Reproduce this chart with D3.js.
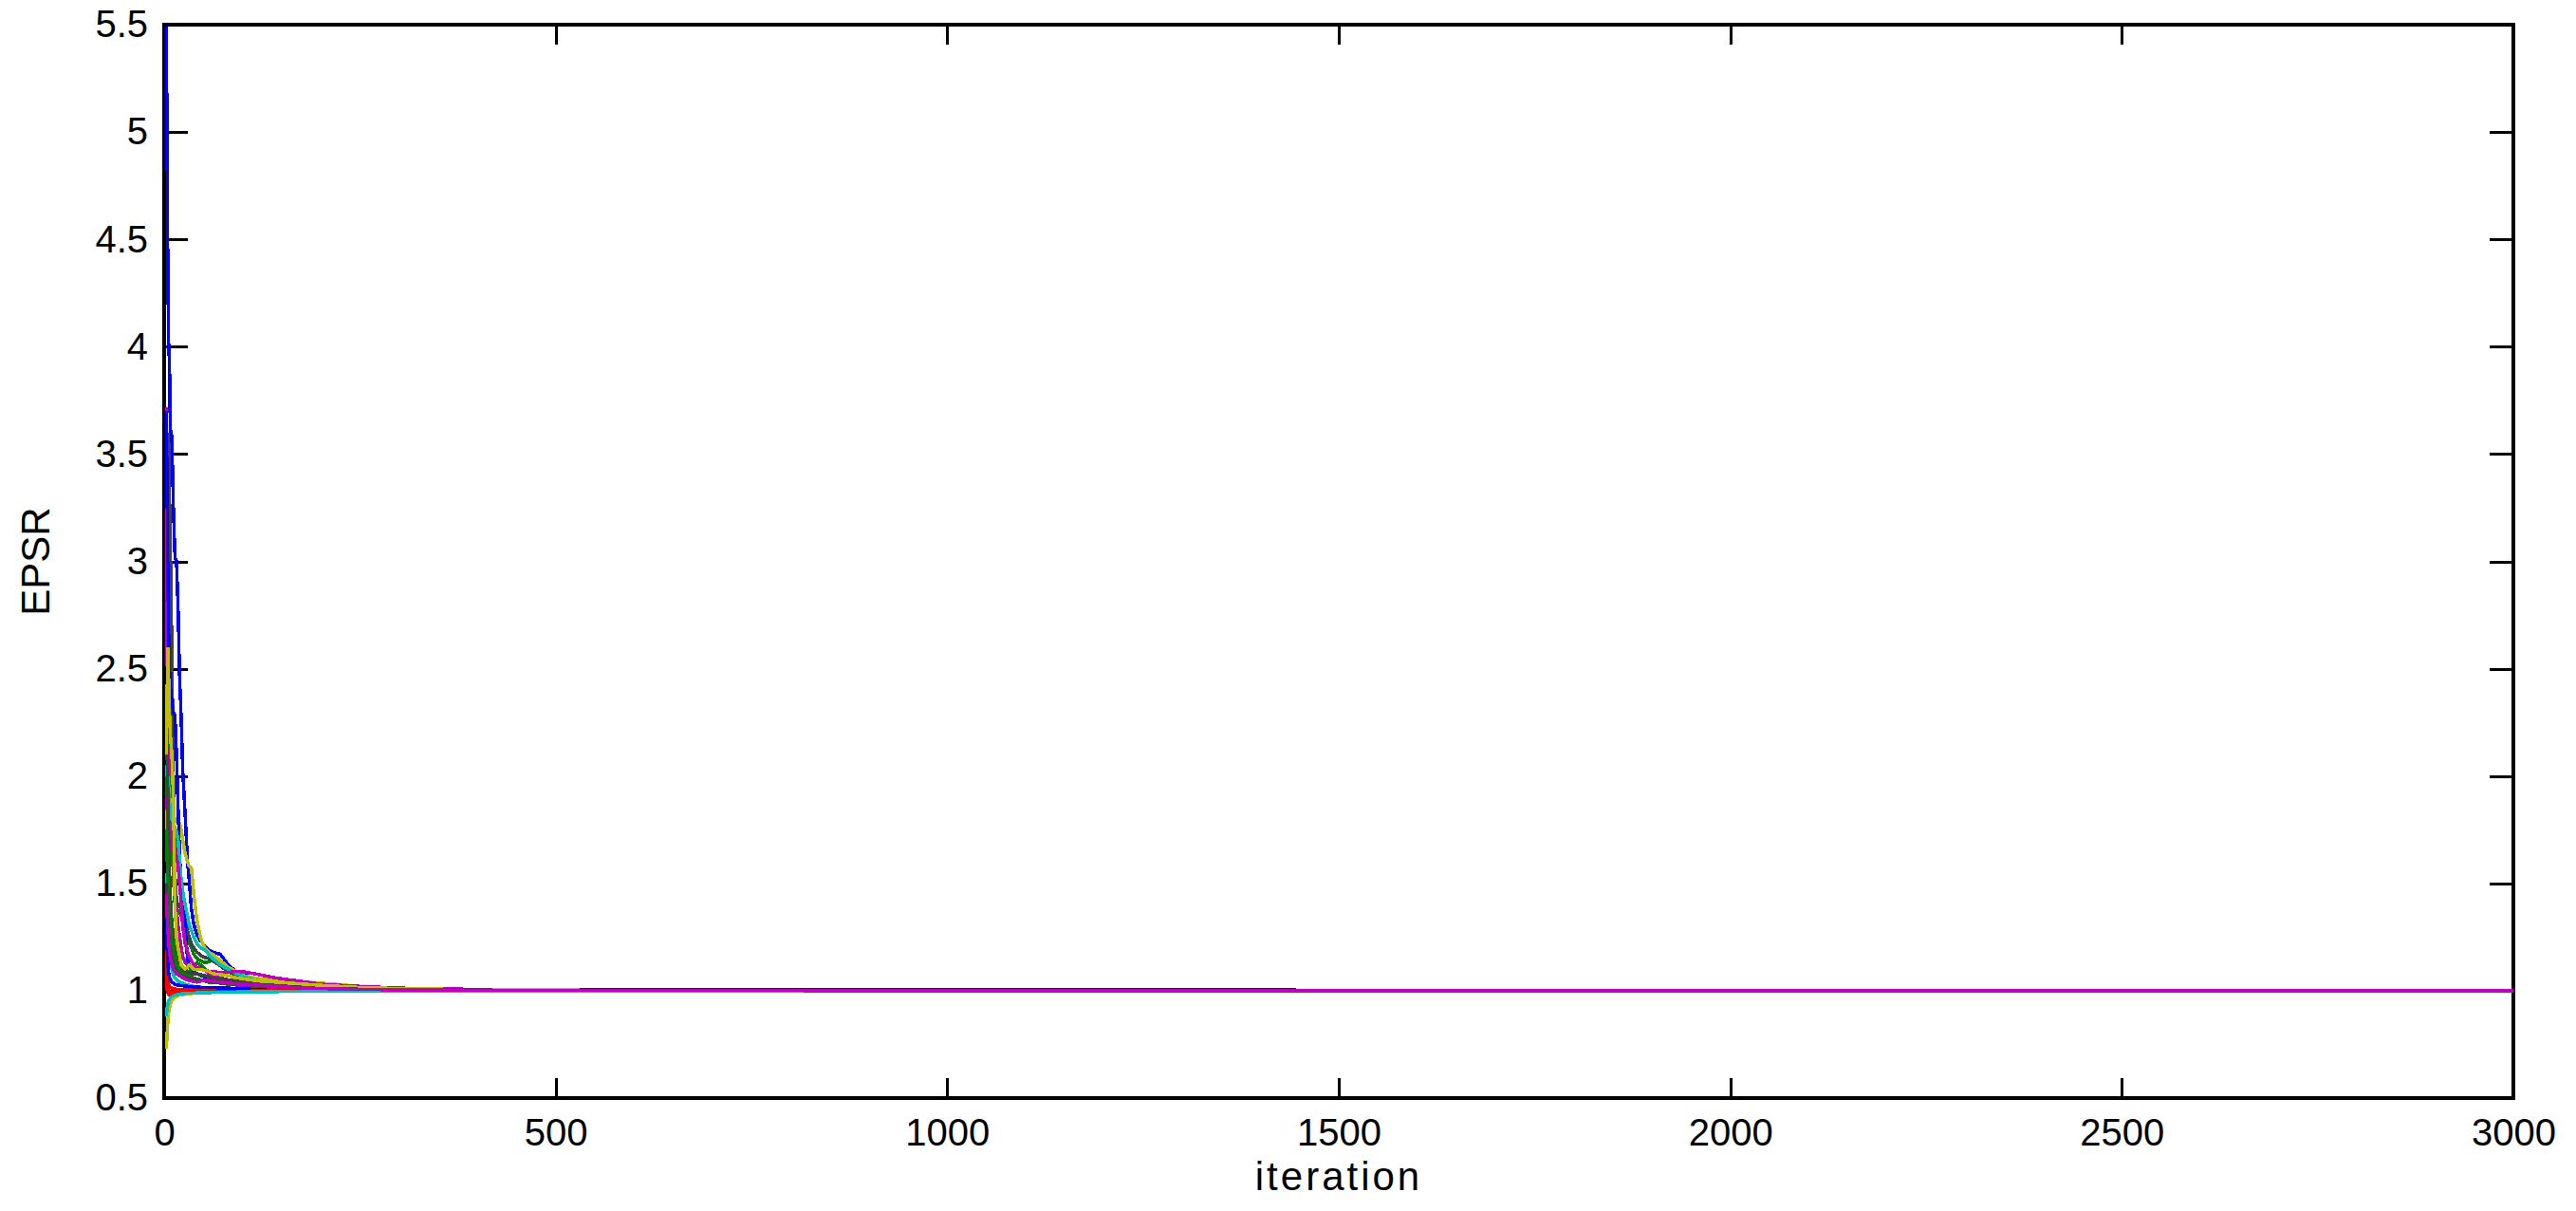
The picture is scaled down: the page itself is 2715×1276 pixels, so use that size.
<!DOCTYPE html>
<html>
<head>
<meta charset="utf-8">
<script src="https://cdn.jsdelivr.net/npm/d3@7"></script>
<style>
  html, body { margin: 0; padding: 0; background: #fff; }
  svg { display: block; }
  text { font-family: "Liberation Sans", Arial, Helvetica, sans-serif; fill: #000; }
</style>
</head>
<body>
<svg id="chart" width="2715" height="1276"></svg>
<script>
// ---------- data ----------
const iterations = [1,2,3,4,5,6,8,10,12,14,16,18,20,22,25,28,30,33,36,40,45,50,55,60,70,80,90,100,120,140,160,180,200,250,300,400,500,700,1000,1300,1500,1700,2000,2500,3000];

const blue1 = [5.5,4.9,4.3,4.0,3.92,3.62,3.58,3.25,3.02,3.0,2.78,2.45,2.27,2.02,1.82,1.6,1.52,1.38,1.31,1.26,1.23,1.21,1.19,1.18,1.17,1.12,1.09,1.075,1.045,1.032,1.024,1.018,1.014,1.01,1.008,1.007,1.007,1.007,1.006,1.005,1.002,1.002,1.001,1.001,1.0];
const green1 = [2.62,2.6,2.5,2.35,2.2,2.0,1.72,1.52,1.4,1.35,1.36,1.37,1.35,1.33,1.3,1.26,1.22,1.2,1.17,1.15,1.14,1.13,1.135,1.14,1.12,1.1,1.075,1.06,1.04,1.03,1.022,1.017,1.013,1.008,1.005,1.003,1.003,1.002,1.002,1.001,1.001,1.0,1.0,1.0,1.0];
const red1 = [1.15,1.04,1.0,0.985,0.978,0.976,0.976,0.978,0.98,0.981,0.982,0.983,0.984,0.985,0.986,0.987,0.988,0.988,0.989,0.99,0.991,0.992,0.992,0.993,0.994,0.995,0.995,0.996,0.997,0.997,0.998,0.998,0.998,0.999,0.999,1.0,1.0,1.0,1.0,1.0,1.0,1.0,1.0,1.0,1.0];
const cyan1 = [1.55,1.48,1.38,1.28,1.2,1.15,1.1,1.07,1.06,1.05,1.045,1.04,1.038,1.035,1.03,1.028,1.025,1.022,1.02,1.018,1.016,1.014,1.012,1.011,1.01,1.008,1.007,1.006,1.005,1.004,1.004,1.003,1.003,1.002,1.002,1.001,1.0,1.0,1.0,1.0,1.0,1.0,1.0,1.0,1.0];
const magenta1 = [3.72,2.6,1.95,1.85,1.78,1.74,1.7,1.62,1.5,1.38,1.3,1.25,1.2,1.16,1.13,1.12,1.12,1.11,1.1,1.1,1.11,1.1,1.08,1.07,1.06,1.05,1.045,1.04,1.03,1.022,1.017,1.013,1.01,1.007,1.005,1.003,1.002,1.002,1.001,1.0,1.0,1.0,1.0,1.0,1.0];
const yellow1 = [1.7,1.9,2.0,1.95,1.9,1.88,1.85,1.82,1.8,1.79,1.79,1.78,1.75,1.7,1.64,1.6,1.58,1.57,1.45,1.33,1.24,1.2,1.18,1.17,1.14,1.11,1.09,1.07,1.055,1.05,1.045,1.04,1.035,1.02,1.01,1.005,1.003,1.002,1.001,1.0,1.0,1.0,1.0,1.0,1.0];
const gray1 = [3.3,3.55,3.6,3.55,3.3,3.1,2.6,2.0,1.55,1.42,1.4,1.39,1.38,1.37,1.33,1.28,1.25,1.22,1.2,1.18,1.165,1.155,1.15,1.14,1.115,1.09,1.07,1.055,1.04,1.03,1.022,1.017,1.013,1.008,1.005,1.003,1.003,1.002,1.002,1.001,1.0,1.0,1.0,1.0,1.0];
const blue2 = [3.7,3.3,2.9,2.65,2.5,2.42,2.35,2.3,2.28,2.1,1.85,1.62,1.5,1.42,1.3,1.15,1.12,1.1,1.09,1.08,1.07,1.065,1.06,1.055,1.045,1.04,1.035,1.03,1.022,1.017,1.014,1.012,1.01,1.008,1.006,1.005,1.005,1.004,1.003,1.002,1.002,1.001,1.001,1.001,1.0];
const green2 = [2.0,1.9,1.75,1.6,1.5,1.42,1.32,1.25,1.2,1.16,1.14,1.12,1.11,1.1,1.1,1.09,1.09,1.1,1.11,1.13,1.12,1.1,1.09,1.085,1.08,1.07,1.06,1.05,1.035,1.025,1.02,1.016,1.012,1.008,1.005,1.003,1.002,1.002,1.001,1.001,1.0,1.0,1.0,1.0,1.0];
const red2 = [1.3,1.12,1.06,1.03,1.02,1.015,1.012,1.01,1.008,1.007,1.006,1.005,1.005,1.005,1.004,1.004,1.004,1.004,1.003,1.003,1.003,1.003,1.003,1.002,1.002,1.002,1.002,1.002,1.002,1.001,1.001,1.001,1.001,1.001,1.0,1.0,1.0,1.0,1.0,1.0,1.0,1.0,1.0,1.0,1.0];
const cyan2 = [2.0,2.05,1.98,1.92,1.88,1.84,1.8,1.78,1.76,1.74,1.7,1.6,1.52,1.46,1.4,1.35,1.31,1.28,1.25,1.22,1.2,1.19,1.17,1.15,1.12,1.1,1.08,1.065,1.045,1.033,1.025,1.02,1.015,1.01,1.007,1.004,1.003,1.002,1.002,1.001,1.001,1.0,1.0,1.0,1.0];
const magenta2 = [1.9,1.85,1.8,1.78,1.76,1.75,1.73,1.72,1.68,1.62,1.58,1.5,1.4,1.3,1.22,1.18,1.16,1.14,1.12,1.11,1.1,1.095,1.09,1.09,1.085,1.085,1.09,1.088,1.075,1.06,1.05,1.04,1.03,1.02,1.012,1.006,1.004,1.003,1.002,1.001,1.001,1.0,1.0,1.0,1.0];
const yellow2 = [0.73,0.8,0.86,0.9,0.92,0.935,0.955,0.965,0.97,0.974,0.977,0.979,0.981,0.982,0.984,0.985,0.986,0.987,0.988,0.989,0.99,0.991,0.992,0.993,0.994,0.995,0.995,0.996,0.997,0.997,0.998,0.998,0.998,0.999,0.999,0.999,1.0,1.0,1.0,1.0,1.0,1.0,1.0,1.0,1.0];
const gray2 = [2.3,2.1,1.9,1.7,1.55,1.45,1.3,1.2,1.15,1.12,1.11,1.105,1.1,1.095,1.09,1.085,1.08,1.08,1.08,1.078,1.075,1.07,1.065,1.06,1.055,1.05,1.045,1.04,1.03,1.025,1.02,1.016,1.013,1.009,1.006,1.004,1.003,1.003,1.002,1.002,1.001,1.001,1.0,1.0,1.0];
const blue3 = [1.35,1.2,1.12,1.08,1.06,1.05,1.04,1.035,1.03,1.028,1.026,1.025,1.024,1.023,1.022,1.021,1.02,1.019,1.018,1.017,1.016,1.016,1.015,1.015,1.013,1.012,1.011,1.01,1.009,1.008,1.007,1.007,1.006,1.005,1.005,1.004,1.004,1.004,1.003,1.003,1.002,1.002,1.001,1.001,1.001];
const green3 = [1.75,1.62,1.5,1.42,1.36,1.3,1.22,1.17,1.14,1.12,1.1,1.09,1.085,1.08,1.075,1.07,1.07,1.065,1.06,1.055,1.05,1.045,1.04,1.04,1.035,1.03,1.027,1.025,1.02,1.016,1.013,1.011,1.009,1.006,1.004,1.003,1.002,1.002,1.001,1.001,1.0,1.0,1.0,1.0,1.0];
const red3 = [1.05,1.0,0.99,0.988,0.99,0.99,0.991,0.992,0.992,0.993,0.993,0.994,0.995,0.995,0.995,0.996,0.996,0.996,0.997,0.997,0.997,0.997,0.998,0.998,0.998,0.998,0.998,0.998,0.999,0.999,0.999,0.999,0.999,1.0,1.0,1.0,1.0,1.0,1.0,1.0,1.0,1.0,1.0,1.0,1.0];
const cyan3 = [0.88,0.92,0.94,0.955,0.96,0.965,0.972,0.976,0.979,0.981,0.983,0.984,0.985,0.986,0.987,0.988,0.988,0.989,0.989,0.99,0.99,0.99,0.991,0.992,0.993,0.994,0.994,0.995,0.996,0.996,0.997,0.997,0.998,0.998,0.999,1.0,1.0,1.0,1.0,1.0,1.0,1.0,1.0,1.0,1.0];
const yellow3 = [2.1,2.4,2.6,2.45,2.3,2.2,2.1,1.9,1.4,1.25,1.2,1.16,1.12,1.11,1.1,1.11,1.12,1.11,1.1,1.1,1.1,1.095,1.09,1.08,1.075,1.07,1.06,1.055,1.045,1.04,1.035,1.03,1.025,1.015,1.01,1.005,1.003,1.002,1.001,1.0,1.0,1.0,1.0,1.0,1.0];
const gray3 = [1.5,1.4,1.32,1.26,1.22,1.19,1.15,1.12,1.1,1.09,1.08,1.075,1.07,1.068,1.065,1.06,1.058,1.055,1.052,1.05,1.047,1.045,1.042,1.04,1.036,1.033,1.03,1.027,1.022,1.018,1.015,1.012,1.01,1.007,1.005,1.003,1.002,1.002,1.001,1.001,1.0,1.0,1.0,1.0,1.0];
const magenta3 = [1.45,1.35,1.28,1.22,1.18,1.15,1.12,1.1,1.09,1.08,1.075,1.07,1.065,1.06,1.055,1.05,1.048,1.045,1.042,1.04,1.045,1.05,1.048,1.045,1.04,1.036,1.032,1.03,1.025,1.02,1.016,1.012,1.01,1.006,1.004,1.002,1.001,1.001,1.0,1.0,1.0,1.0,1.0,1.0,1.0];

const seriesNames = ["blue1","green1","red1","cyan1","magenta1","yellow1","gray1","blue2","green2","red2","cyan2","magenta2","yellow2","gray2","blue3","green3","red3","cyan3","yellow3","gray3","magenta3"];
const seriesValues = [blue1,green1,red1,cyan1,magenta1,yellow1,gray1,blue2,green2,red2,cyan2,magenta2,yellow2,gray2,blue3,green3,red3,cyan3,yellow3,gray3,magenta3];
const seriesColors = ["#0000ff","#008000","#ff0000","#00bfbf","#bf00bf","#bfbf00","#404040","#0000ff","#008000","#ff0000","#00bfbf","#bf00bf","#bfbf00","#404040","#0000ff","#008000","#ff0000","#00bfbf","#bfbf00","#404040","#bf00bf"];

const xTicks = [0,500,1000,1500,2000,2500,3000];
const yTicks = [0.5,1,1.5,2,2.5,3,3.5,4,4.5,5,5.5];
const xDomain = [0,3000];
const yDomain = [0.5,5.5];
const xLabel = "iteration";
const yLabel = "EPSR";

// ---------- layout ----------
const W = 2715, H = 1276;
const margin = {left: 173, top: 26, right: 66, bottom: 119};
const iw = W - margin.left - margin.right;
const ih = H - margin.top - margin.bottom;

const svg = d3.select("#chart");
const g = svg.append("g").attr("transform", `translate(${margin.left},${margin.top})`);

const x = d3.scaleLinear().domain(xDomain).range([0, iw]);
const y = d3.scaleLinear().domain(yDomain).range([ih, 0]);

svg.append("defs").append("clipPath").attr("id", "clip")
  .append("rect").attr("x", -2).attr("y", 2).attr("width", iw + 2).attr("height", ih - 2);

// axes
const fmt = d => String(d);
const fontSize = 40;

const xAxisB = d3.axisBottom(x).tickValues(xTicks).tickFormat(fmt).tickSizeInner(-21).tickSizeOuter(0).tickPadding(22);
const xAxisT = d3.axisTop(x).tickValues(xTicks).tickFormat("").tickSizeInner(-21).tickSizeOuter(0);
const yAxisL = d3.axisLeft(y).tickValues(yTicks).tickFormat(fmt).tickSizeInner(-25).tickSizeOuter(0).tickPadding(17);
const yAxisR = d3.axisRight(y).tickValues(yTicks).tickFormat("").tickSizeInner(-25).tickSizeOuter(0);

function styleAxis(sel) {
  sel.select(".domain").remove();
  sel.selectAll(".tick line").attr("stroke", "#000").attr("stroke-width", 3).attr("shape-rendering", "crispEdges");
  sel.selectAll(".tick text").attr("font-size", fontSize).attr("fill", "#000")
    .attr("font-family", '"Liberation Sans", Arial, Helvetica, sans-serif');
}

g.append("g").attr("transform", `translate(0,${ih})`).call(xAxisB).call(styleAxis);
g.append("g").call(xAxisT).call(styleAxis);
g.append("g").call(yAxisL).call(styleAxis);
g.append("g").attr("transform", `translate(${iw},0)`).call(yAxisR).call(styleAxis);

// frame
g.append("rect").attr("x", 0).attr("y", 0).attr("width", iw).attr("height", ih)
  .attr("fill", "none").attr("stroke", "#000").attr("stroke-width", 3.5).attr("shape-rendering", "crispEdges");

// lines (drawn over the frame, as in the original)
const line = d3.line().x((d, i) => x(iterations[i]) + 1.5).y(d => y(d));
const lines = g.append("g").attr("clip-path", "url(#clip)");
seriesValues.forEach((vals, k) => {
  lines.append("path")
    .datum(vals)
    .attr("class", "series " + seriesNames[k])
    .attr("fill", "none")
    .attr("stroke", seriesColors[k])
    .attr("stroke-width", 3.5)
    .attr("stroke-linejoin", "miter")
    .attr("shape-rendering", "crispEdges")
    .attr("d", line);
});

// labels
svg.append("text").attr("x", margin.left + iw / 2).attr("y", 1254)
  .attr("text-anchor", "middle").attr("font-size", 42).attr("letter-spacing", 3).text(xLabel);
svg.append("text").attr("transform", `translate(52,${margin.top + ih / 2}) rotate(-90)`)
  .attr("text-anchor", "middle").attr("font-size", 42).text(yLabel);
</script>
</body>
</html>
